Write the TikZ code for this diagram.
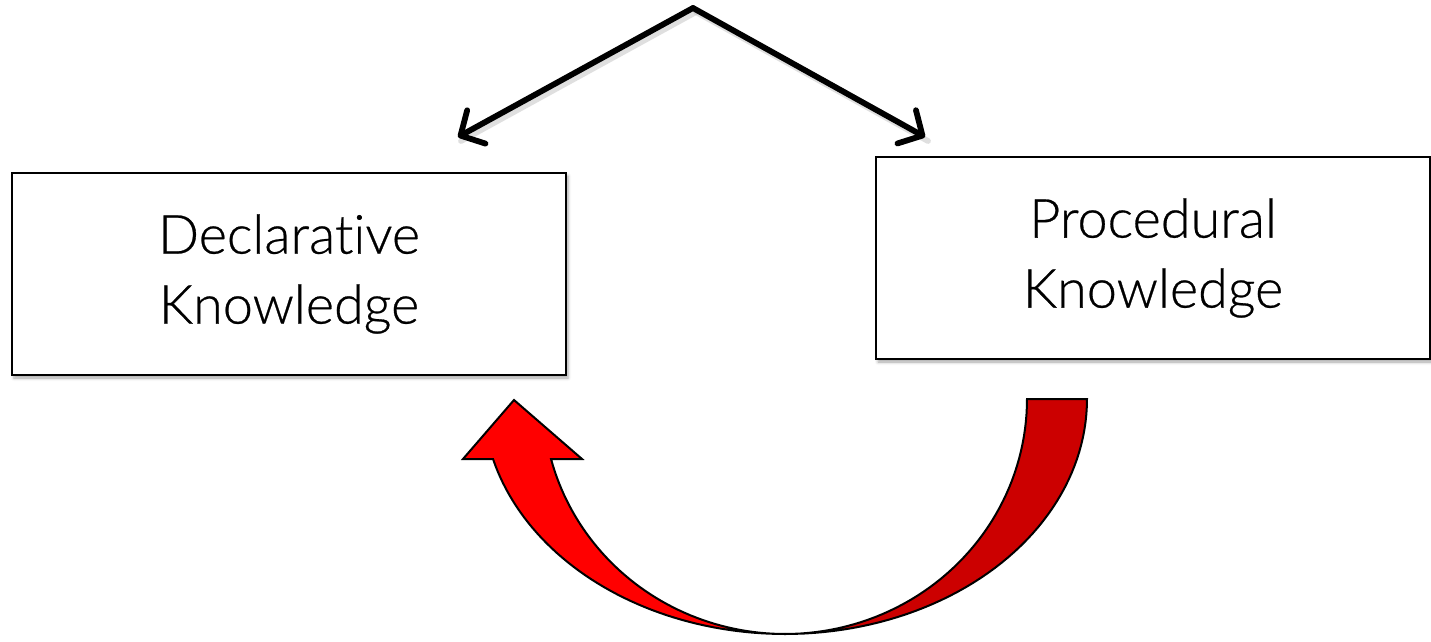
\documentclass[tikz,border=0pt]{standalone}
\usepackage{fontspec}
\setmainfont{Lato}[UprightFont={* Light}, UprightFeatures={FakeBold=0.5}, Ligatures=NoCommon]
\usetikzlibrary{arrows.meta,shadows.blur}
\definecolor{brightred}{HTML}{FF0000}
\definecolor{darkred}{HTML}{CC0000}
\begin{document}
\begin{tikzpicture}[x=0.5pt,y=-0.5pt,
  kbox/.style={draw=black, line width=1.1pt, fill=white,
    minimum width=277pt, minimum height=101pt, align=center,
    font=\fontsize{27}{35}\selectfont, inner sep=0pt,
    blur shadow={shadow xshift=1pt, shadow yshift=-1.5pt,
      shadow blur radius=1.5pt, shadow opacity=35}},
  branch/.style={line width=2.9pt, line cap=round, line join=round,
    -{Straight Barb[length=9pt, width=19pt, line cap=round, line join=round]}},
  branchshadow/.style={line width=2.9pt, draw=black!25, line cap=round},
  cupshape/.style={draw=black, line width=1pt, line join=miter}]
  \useasboundingbox (0,0) rectangle (1431,642);

  % the two kinds of knowledge
  \node[kbox] (decl) at (289,274) {Declarative\\Knowledge};
  \node[kbox] (proc) at (1153,258) {Procedural\\Knowledge};

  % forking arrows from the top
  \coordinate (apex) at (693,8);
  \coordinate (lefttip) at (458,137);
  \coordinate (righttip) at (925,137);
  \draw[branchshadow, opacity=0.5] ([xshift=1.5pt,yshift=-2pt]apex) -- ([xshift=1.5pt,yshift=-2pt]lefttip);
  \draw[branchshadow, opacity=0.5] ([xshift=1.5pt,yshift=-2pt]apex) -- ([xshift=1.5pt,yshift=-2pt]righttip);
  \draw[branch] (apex) -- (lefttip);
  \draw[branch] (apex) -- (righttip);

  % curved return arrow: procedural back to declarative
  \begin{scope}[blur shadow={shadow xshift=1pt, shadow yshift=-1.5pt,
      shadow blur radius=1.5pt, shadow opacity=30}]
    \path[cupshape, fill=darkred]
      plot[domain=0:90, samples=50] ({785+302*cos(\x)},{399+235*sin(\x)})
      -- plot[domain=90:0, samples=50] ({785+242*cos(\x)},{399+235*sin(\x)})
      -- cycle;
    \path[cupshape, fill=brightred]
      plot[domain=165.2:90, samples=50] ({785+302*cos(\x)},{399+235*sin(\x)})
      -- plot[domain=90:165.2, samples=50] ({785+242*cos(\x)},{399+235*sin(\x)})
      -- (582,459) -- (514,400) -- (463,459) -- cycle;
  \end{scope}
\end{tikzpicture}
\end{document}
